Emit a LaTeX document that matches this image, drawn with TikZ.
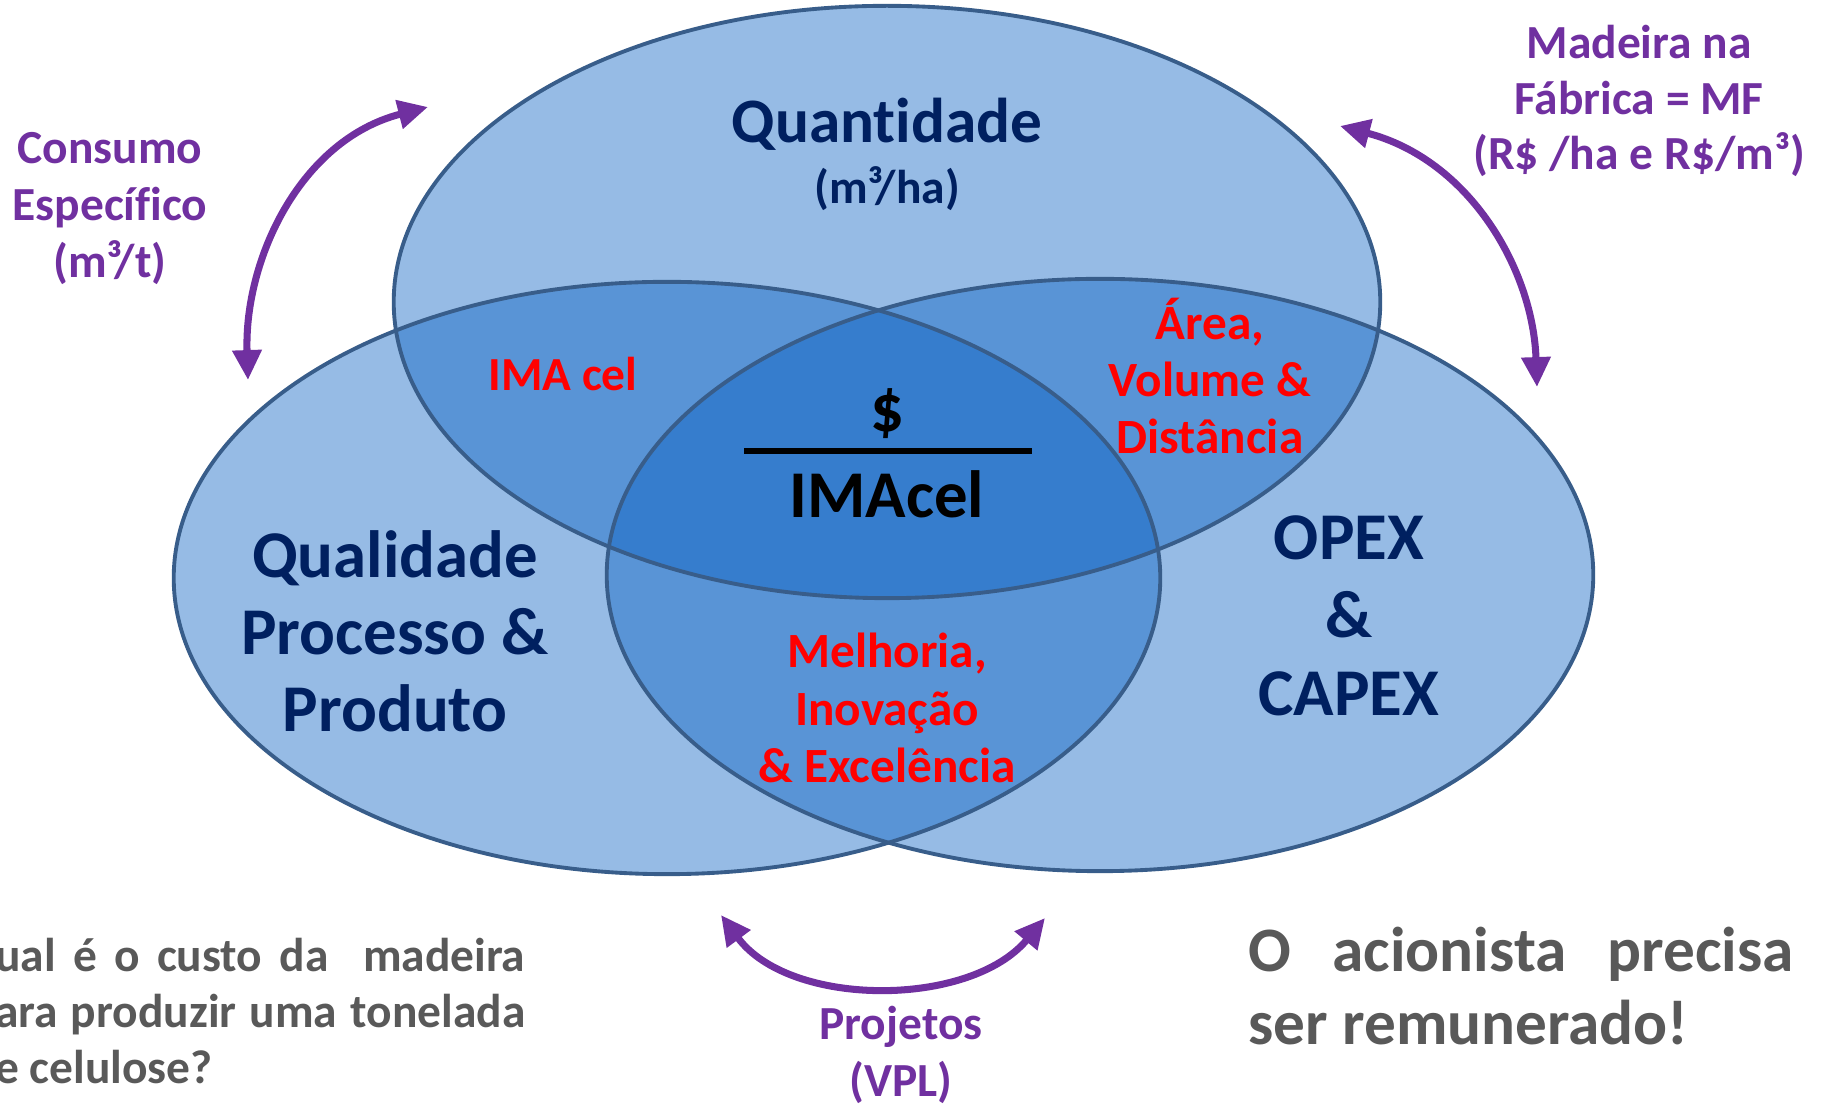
\documentclass[tikz,border=0pt]{standalone}
\usepackage{fontspec}
\setmainfont{Carlito}[Ligatures=NoCommon]
\usetikzlibrary{arrows.meta}

\definecolor{navy}{RGB}{0,32,96}
\definecolor{vennblue}{RGB}{5,93,193}
\definecolor{vennline}{RGB}{56,93,138}
\definecolor{roxo}{RGB}{112,48,160}
\definecolor{cinza}{RGB}{89,89,89}

\newcommand{\bsz}[2]{\fontsize{#1}{#2}\selectfont\bfseries}

\begin{document}
\begin{tikzpicture}[x=0.01cm,y=-0.01cm,
  venn/.style={fill=vennblue,fill opacity=0.42},
  rim/.style={draw=vennline,line width=1.1pt},
  swing/.style={draw=roxo,line width=2pt,{Triangle[length=8.5pt,width=8pt]}-{Triangle[length=8.5pt,width=8pt]}},
  lbl/.style={inner sep=0pt,align=center}]
	\useasboundingbox (0,0) rectangle (1823,1104);
	\clip (0,0) rectangle (1823,1104);
	% the three sets
	\coordinate (qtd) at (887,302);
	\coordinate (qua) at (667,578);
	\coordinate (cst) at (1100,575);
	\foreach \c in {qtd,qua,cst}
		\fill[venn] (\c) ellipse [x radius=4.93cm, y radius=2.96cm];
	\foreach \c in {qtd,qua,cst}
		\draw[rim] (\c) ellipse [x radius=4.93cm, y radius=2.96cm];

	% arrows
	\coordinate (csA) at (248,380);
	\coordinate (csB) at (428,107);
	\draw[swing] (csA) .. controls (244,260) and (300,140) .. (csB);
	\coordinate (mfA) at (1537,387);
	\coordinate (mfB) at (1340,126);
	\draw[swing] (mfA) .. controls (1533,270) and (1470,160) .. (mfB);
	\coordinate (prA) at (721,915);
	\coordinate (prB) at (1045,918);
	\draw[swing] (prA) .. controls (790,1008) and (970,1008) .. (prB);

	% labels
	\node[lbl,text=roxo,font=\bsz{13.5}{16.2}] (consumo) at (110,209) {Consumo\\Específico\\(m³/t)};
	\node[lbl,text=roxo,font=\bsz{13.5}{15.9}] (madeira) at (1639,101) {Madeira na\\Fábrica = MF\\(R\$ /ha e R\$/m³)};
	\node[lbl,text=roxo,font=\bsz{13.5}{16.2}] (projetos) at (901,1055) {Projetos\\(VPL)};

	\node[lbl,text=navy,font=\bsz{18}{18}] (quantidade) at (887,124) {Quantidade};
	\node[lbl,text=navy,font=\bsz{13.5}{16}] (m3ha) at (887,189) {(m³/ha)};
	\node[lbl,text=navy,font=\bsz{19}{21.9}] (qualidade) at (395,631) {Qualidade\\Processo \&\\Produto};
	\node[lbl,text=navy,font=\bsz{19}{22.1}] (opex) at (1349,616) {OPEX\\\&\\CAPEX};

	\node[lbl,text=red,font=\bsz{13.5}{16}] (imacel) at (563,374) {IMA cel};
	\node[lbl,text=red,font=\bsz{14}{16.2}] (area) at (1210,376) {Área,\\Volume \&\\Distância};
	\node[lbl,text=red,font=\bsz{14}{16.3}] (melhoria) at (887,708) {Melhoria,\\Inovação\\\& Excelência};

	% the ratio in the middle
	\node[lbl,font=\bsz{19}{19}] (dolar) at (887,414) {\$};
	\node[lbl,font=\bsz{19}{19}] (imafrac) at (887,494) {IMAcel};
	\coordinate (fracL) at (744,451);
	\coordinate (fracR) at (1032,451);
	\draw[line width=1.5pt] (fracL) -- (fracR);

	\node[inner sep=0pt,text=cinza,font=\bsz{13.5}{15.9},text width=158pt,align=justify,anchor=east] (pergunta) at (526,1011)
		{qual é o custo da~ madeira\linebreak para produzir uma tonelada\linebreak de celulose?};
	\node[inner sep=0pt,text=cinza,font=\bsz{18}{20.7},text width=155pt,align=justify,anchor=west] (acionista) at (1248,986)
		{O acionista precisa\linebreak ser remunerado!};
\end{tikzpicture}
\end{document}
